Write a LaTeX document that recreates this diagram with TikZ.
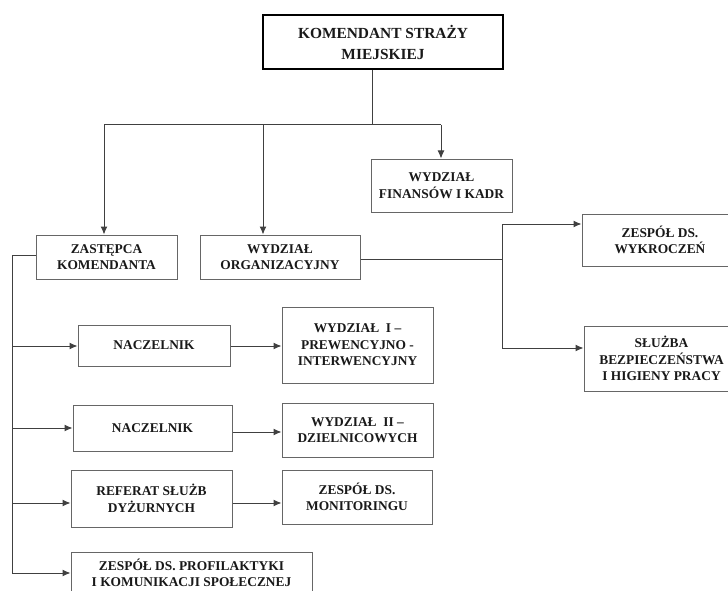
\documentclass[tikz,border=0pt]{standalone}
\usepackage{fontspec}
\setmainfont{Liberation Serif}
\usetikzlibrary{arrows.meta}
\begin{document}
\begin{tikzpicture}[x=1pt,y=-1pt,
  box/.style={draw=black!60,line width=1pt,fill=white,align=center,inner sep=2pt,
    font=\fontsize{13.4}{16.5}\selectfont\bfseries,text=black!90},
  topbox/.style={box,draw=black,line width=2pt,font=\fontsize{15.4}{21}\selectfont\bfseries},
  conn/.style={draw=black!75,line width=1pt},
  arr/.style={conn,-{Latex[length=8pt,width=7pt]}}]
\useasboundingbox (0,0) rectangle (728,591);
\fill[white] (0,0) rectangle (728,591);
% nodes
\node[topbox,minimum width=240,minimum height=54] (kom) at (383,42) {KOMENDANT STRAŻY\\MIEJSKIEJ};
\node[box,minimum width=141,minimum height=53] (fin) at (441.5,185.5) {WYDZIAŁ\\FINANSÓW I KADR};
\node[box,minimum width=141,minimum height=44] (zas) at (106.5,257) {ZASTĘPCA\\KOMENDANTA};
\node[box,minimum width=160,minimum height=44] (org) at (280,257) {WYDZIAŁ\\ORGANIZACYJNY};
\node[box,minimum width=156,minimum height=52] (wyk) at (660,240) {ZESPÓŁ DS.\\WYKROCZEŃ};
\node[box,minimum width=155,minimum height=65] (bhp) at (661.5,358.5) {SŁUŻBA\\BEZPIECZEŃSTWA\\I HIGIENY PRACY};
\node[box,minimum width=152,minimum height=41] (nac1) at (154,345.5) {NACZELNIK};
\node[box,minimum width=151,minimum height=76] (w1) at (357.5,345) {WYDZIAŁ\ \ I –\\PREWENCYJNO -\\INTERWENCYJNY};
\node[box,minimum width=159,minimum height=46] (nac2) at (152.5,428) {NACZELNIK};
\node[box,minimum width=151,minimum height=54] (w2) at (357.5,430) {WYDZIAŁ\ \ II –\\DZIELNICOWYCH};
\node[box,minimum width=161,minimum height=57] (ref) at (151.5,498.5) {REFERAT SŁUŻB\\DYŻURNYCH};
\node[box,minimum width=150,minimum height=54] (mon) at (357,497) {ZESPÓŁ DS.\\MONITORINGU};
\node[box,minimum width=241,minimum height=42] (pro) at (191.5,573) {ZESPÓŁ DS. PROFILAKTYKI\\I KOMUNIKACJI SPOŁECZNEJ};
% top tree
\coordinate (bus) at (372,125);
\coordinate (b1) at (104,125);
\coordinate (b2) at (263,125);
\coordinate (b3) at (441,125);
\draw[conn] (kom.south -| bus) -- (bus);
\draw[conn] (b1) -- (b3);
\draw[arr] (b1) -- (b1 |- zas.north);
\draw[arr] (b2) -- (b2 |- org.north);
\draw[arr] (b3) -- (b3 |- fin.north);
% organizacyjny branch
\coordinate (oj) at (502,259);
\coordinate (oj1) at (502,224);
\coordinate (oj2) at (502,348);
\draw[conn] (org.east |- oj) -- (oj);
\draw[conn] (oj1) -- (oj2);
\draw[arr] (oj1) -- (oj1 -| wyk.west);
\draw[arr] (oj2) -- (oj2 -| bhp.west);
% zastepca branch
\coordinate (zl) at (12,255);
\coordinate (l1) at (12,346);
\coordinate (l2) at (12,428);
\coordinate (l3) at (12,503);
\coordinate (l4) at (12,573);
\draw[conn] (zas.west |- zl) -- (zl) -- (l4);
\draw[arr] (l1) -- (l1 -| nac1.west);
\draw[arr] (l2) -- (l2 -| nac2.west);
\draw[arr] (l3) -- (l3 -| ref.west);
\draw[arr] (l4) -- (l4 -| pro.west);
% horizontal arrows
\coordinate (h1) at (0,346);
\coordinate (h2) at (0,432);
\coordinate (h3) at (0,503);
\draw[arr] (h1 -| nac1.east) -- (h1 -| w1.west);
\draw[arr] (h2 -| nac2.east) -- (h2 -| w2.west);
\draw[arr] (h3 -| ref.east) -- (h3 -| mon.west);
\end{tikzpicture}
\end{document}
